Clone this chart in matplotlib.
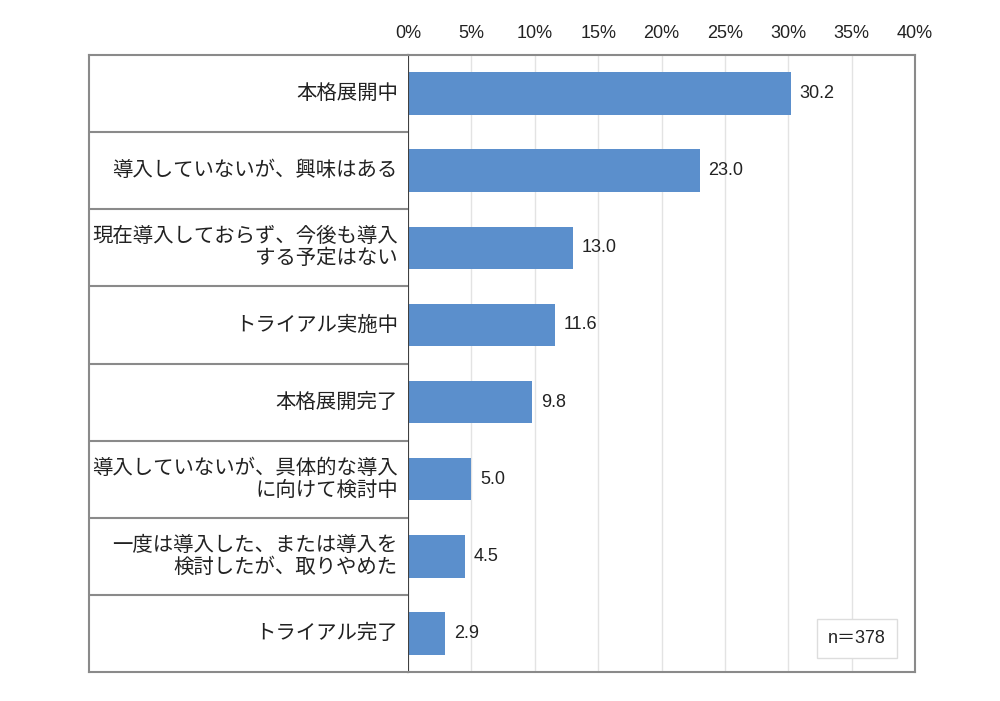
import matplotlib
matplotlib.use("Agg")
import matplotlib.pyplot as plt

plt.rcParams['font.family'] = ['Noto Sans CJK JP', 'DejaVu Sans']

categories = [
    "本格展開中",
    "導入していないが、興味はある",
    "現在導入しておらず、今後も導入\nする予定はない",
    "トライアル実施中",
    "本格展開完了",
    "導入していないが、具体的な導入\nに向けて検討中",
    "一度は導入した、または導入を\n検討したが、取りやめた",
    "トライアル完了",
]
values = [30.2, 23.0, 13.0, 11.6, 9.8, 5.0, 4.5, 2.9]
xticks = [0, 5, 10, 15, 20, 25, 30, 35, 40]
xticklabels = [f"{t}%" for t in xticks]
n_label = "n＝378"

bar_color = "#5B8FCC"
border = "#8a8a8a"
num_font = ['Liberation Sans', 'Noto Sans CJK JP']

fig = plt.figure(figsize=(10, 7.01), dpi=100)
left_x, axis_x, right_x = 0.089, 0.408, 0.915
bottom, top = 1 - 672 / 701, 1 - 55 / 701

ax = fig.add_axes([axis_x, bottom, right_x - axis_x, top - bottom])
lab = fig.add_axes([left_x, bottom, axis_x - left_x, top - bottom])

n = len(categories)
ypos = list(range(n))
ax.barh(ypos, values, height=0.55, color=bar_color, zorder=3)
ax.set_ylim(n - 0.5, -0.5)
ax.set_xlim(0, 40)
ax.set_xticks(xticks)
ax.set_xticklabels(xticklabels, fontsize=13, color="#222222", family=num_font)
ax.xaxis.tick_top()
ax.tick_params(axis='x', length=0, pad=9)
ax.set_yticks([])
ax.grid(axis='x', color="#e3e3e3", linewidth=1, zorder=0)
for s in ['top', 'right', 'bottom']:
    ax.spines[s].set_color(border)
    ax.spines[s].set_linewidth(1.5)
ax.spines['left'].set_color("#404040")
ax.spines['left'].set_linewidth(1.5)
ax.spines['left'].set_zorder(5)

for y, v in zip(ypos, values):
    ax.text(v + 0.7, y, f"{v:.1f}", va='center', ha='left', fontsize=13,
            color="#222222", family=num_font)

ax.text(0.943, 0.04, n_label, transform=ax.transAxes, ha='right', va='bottom',
        fontsize=13, color="#222222", family=num_font,
        bbox=dict(boxstyle='square,pad=0.6', facecolor='white', edgecolor='#dddddd', linewidth=1),
        zorder=6)

lab.set_ylim(n - 0.5, -0.5)
lab.set_xlim(0, 1)
lab.set_xticks([])
lab.set_yticks([])
for s in ['top', 'left', 'bottom']:
    lab.spines[s].set_color(border)
    lab.spines[s].set_linewidth(1.5)
lab.spines['right'].set_visible(False)
for i in range(1, n):
    lab.axhline(i - 0.5, color=border, linewidth=1.5)
for y, c in zip(ypos, categories):
    lab.text(0.968, y, c, ha='right', va='center', fontsize=14.7, color="#222222",
             linespacing=1.05, multialignment='right')

fig.savefig("out.png", dpi=100)
